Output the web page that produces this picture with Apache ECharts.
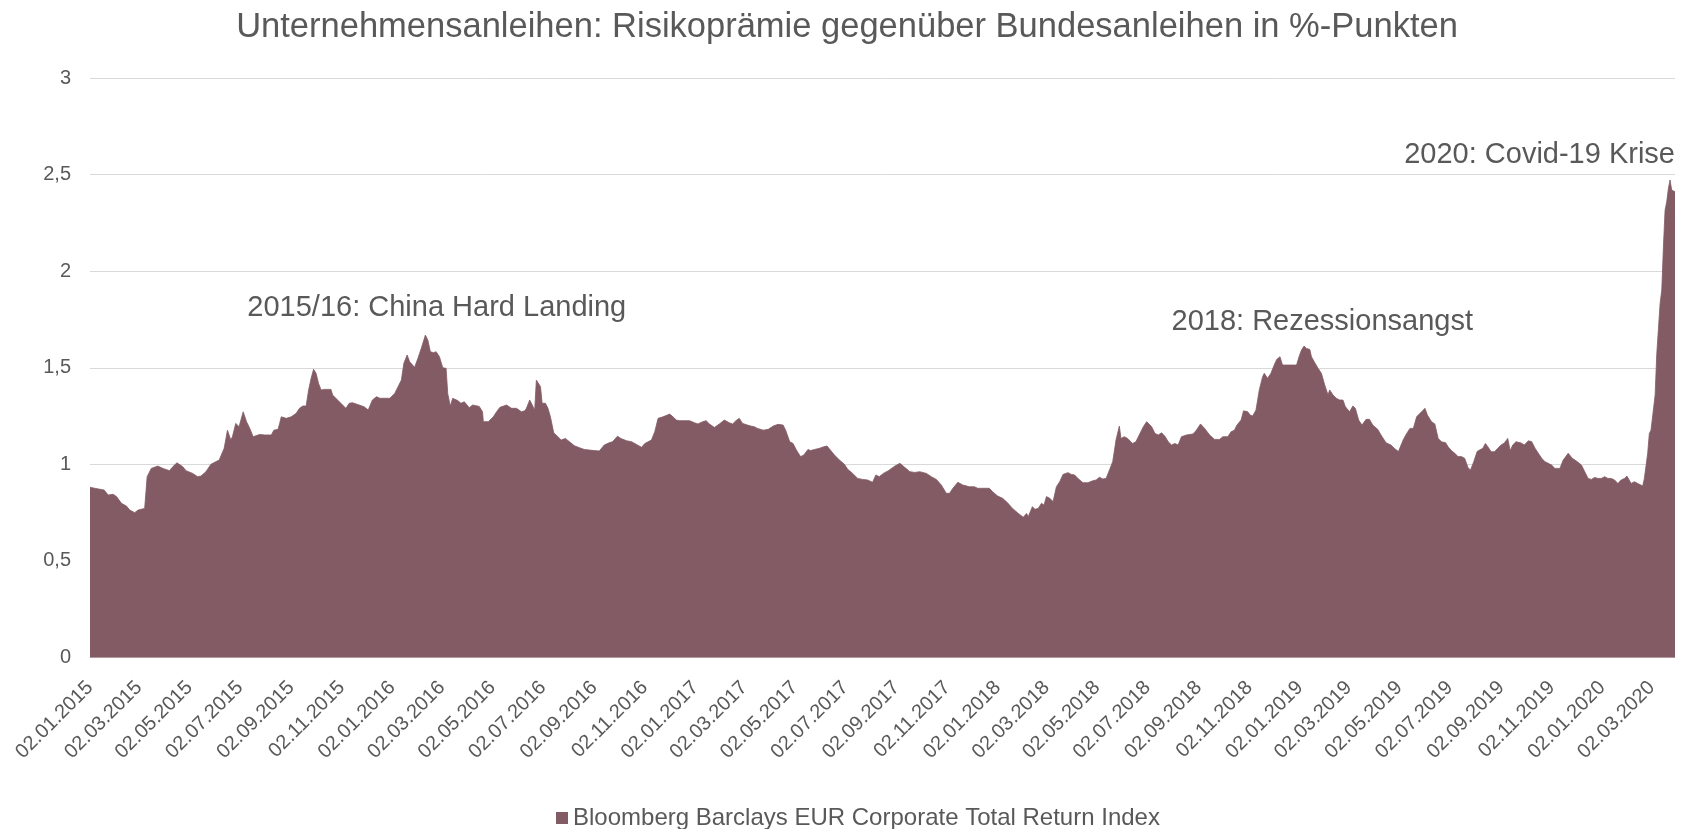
<!DOCTYPE html>
<html>
<head>
<meta charset="utf-8">
<script src="https://cdn.jsdelivr.net/npm/echarts@6/dist/echarts.min.js"></script>
<style>
html,body{margin:0;padding:0;background:#fff;}
#chart{width:1694px;height:829px;}
</style>
</head>
<body>
<div id="chart"></div>
<script>
const chartTitle = 'Unternehmensanleihen: Risikoprämie gegenüber Bundesanleihen in %-Punkten';
const seriesName = 'Bloomberg Barclays EUR Corporate Total Return Index';

const tickLabels = [
  '2015-01-02','2015-03-02','2015-05-02','2015-07-02','2015-09-02','2015-11-02',
  '2016-01-02','2016-03-02','2016-05-02','2016-07-02','2016-09-02','2016-11-02',
  '2017-01-02','2017-03-02','2017-05-02','2017-07-02','2017-09-02','2017-11-02',
  '2018-01-02','2018-03-02','2018-05-02','2018-07-02','2018-09-02','2018-11-02',
  '2019-01-02','2019-03-02','2019-05-02','2019-07-02','2019-09-02','2019-11-02',
  '2020-01-02','2020-03-02'
];

const dates = [
  // 2015
  '2015-01-02','2015-01-09','2015-01-19','2015-01-24','2015-01-30','2015-02-03','2015-02-09','2015-02-15','2015-02-19','2015-02-25',
  '2015-03-01','2015-03-09','2015-03-12','2015-03-17','2015-03-25','2015-03-31','2015-04-08','2015-04-12','2015-04-17','2015-04-24',
  '2015-04-28','2015-05-06','2015-05-12','2015-05-16','2015-05-22','2015-05-28','2015-06-03','2015-06-07','2015-06-13','2015-06-17',
  '2015-06-21','2015-06-23','2015-06-27','2015-07-01','2015-07-06','2015-07-10','2015-07-14','2015-07-18','2015-07-26','2015-08-01',
  '2015-08-09','2015-08-12','2015-08-17','2015-08-19','2015-08-21','2015-08-23','2015-08-27','2015-09-02','2015-09-08','2015-09-12',
  '2015-09-16','2015-09-20','2015-09-23','2015-09-26','2015-09-29','2015-10-02','2015-10-05','2015-10-08','2015-10-12','2015-10-20',
  '2015-10-22','2015-10-28','2015-11-03','2015-11-07','2015-11-11','2015-11-15','2015-11-23','2015-11-29','2015-12-04','2015-12-09',
  '2015-12-14','2015-12-18','2015-12-30',
  // 2016
  '2016-01-05','2016-01-09','2016-01-13','2016-01-16','2016-01-20','2016-01-23','2016-01-25','2016-01-29','2016-02-02','2016-02-06',
  '2016-02-11','2016-02-14','2016-02-17','2016-02-21','2016-02-24','2016-02-28','2016-03-03','2016-03-07','2016-03-09','2016-03-12',
  '2016-03-15','2016-03-21','2016-03-25','2016-03-29','2016-04-04','2016-04-08','2016-04-16','2016-04-20','2016-04-21','2016-04-27',
  '2016-05-03','2016-05-07','2016-05-11','2016-05-19','2016-05-25','2016-05-31','2016-06-06','2016-06-10','2016-06-12','2016-06-16',
  '2016-06-19','2016-06-22','2016-06-24','2016-06-26','2016-06-29','2016-07-01','2016-07-05','2016-07-08','2016-07-11','2016-07-15',
  '2016-07-20','2016-07-24','2016-07-29','2016-08-03','2016-08-09','2016-08-15','2016-08-21','2016-08-27','2016-09-02','2016-09-08',
  '2016-09-14','2016-09-20','2016-09-24','2016-09-30','2016-10-04','2016-10-11','2016-10-17','2016-10-23','2016-10-29','2016-11-02',
  '2016-11-06','2016-11-10','2016-11-14','2016-11-18','2016-11-24','2016-12-02','2016-12-06','2016-12-10','2016-12-14','2016-12-26',
  // 2017
  '2017-01-01','2017-01-05','2017-01-11','2017-01-15','2017-01-19','2017-01-25','2017-01-31','2017-02-06','2017-02-12','2017-02-16',
  '2017-02-20','2017-02-24','2017-02-28','2017-03-06','2017-03-10','2017-03-14','2017-03-18','2017-03-25','2017-03-31','2017-04-06',
  '2017-04-12','2017-04-18','2017-04-21','2017-04-26','2017-04-30','2017-05-04','2017-05-09','2017-05-13','2017-05-18','2017-05-21',
  '2017-05-26','2017-06-01','2017-06-06','2017-06-10','2017-06-14','2017-06-19','2017-06-25','2017-07-01','2017-07-05','2017-07-11',
  '2017-07-17','2017-07-23','2017-07-29','2017-08-04','2017-08-08','2017-08-12','2017-08-17','2017-08-23','2017-08-25','2017-08-31',
  '2017-09-06','2017-09-08','2017-09-12','2017-09-18','2017-09-24','2017-09-30','2017-10-08','2017-10-14','2017-10-20','2017-10-26',
  '2017-11-01','2017-11-05','2017-11-09','2017-11-15','2017-11-21','2017-11-29','2017-12-05','2017-12-09','2017-12-17','2017-12-23',
  '2017-12-27',
  // 2018
  '2018-01-02','2018-01-08','2018-01-14','2018-01-20','2018-01-27','2018-02-02','2018-02-06','2018-02-08','2018-02-13','2018-02-16',
  '2018-02-20','2018-02-24','2018-02-27','2018-03-02','2018-03-06','2018-03-10','2018-03-14','2018-03-18','2018-03-22','2018-03-28',
  '2018-04-01','2018-04-05','2018-04-09','2018-04-15','2018-04-21','2018-04-27','2018-05-01','2018-05-05','2018-05-09','2018-05-13',
  '2018-05-17','2018-05-21','2018-05-25','2018-05-29','2018-05-31','2018-06-04','2018-06-08','2018-06-10','2018-06-14','2018-06-18',
  '2018-06-22','2018-06-27','2018-07-01','2018-07-03','2018-07-07','2018-07-11','2018-07-15','2018-07-19','2018-07-23','2018-07-27',
  '2018-07-31','2018-08-04','2018-08-08','2018-08-12','2018-08-18','2018-08-26','2018-08-30','2018-09-04','2018-09-09','2018-09-15',
  '2018-09-21','2018-09-27','2018-10-01','2018-10-07','2018-10-11','2018-10-15','2018-10-18','2018-10-23','2018-10-26','2018-10-31',
  '2018-11-03','2018-11-06','2018-11-10','2018-11-14','2018-11-18','2018-11-20','2018-11-24','2018-11-28','2018-12-02','2018-12-05',
  '2018-12-09','2018-12-12','2018-12-19','2018-12-29',
  // 2019
  '2019-01-01','2019-01-04','2019-01-07','2019-01-10','2019-01-14','2019-01-16','2019-01-20','2019-01-24','2019-01-28','2019-02-01',
  '2019-02-05','2019-02-07','2019-02-11','2019-02-15','2019-02-19','2019-02-23','2019-02-26','2019-03-03','2019-03-07','2019-03-10',
  '2019-03-14','2019-03-18','2019-03-23','2019-03-27','2019-03-31','2019-04-06','2019-04-10','2019-04-16','2019-04-22','2019-04-26',
  '2019-05-01','2019-05-03','2019-05-07','2019-05-11','2019-05-15','2019-05-19','2019-05-23','2019-05-27','2019-05-30','2019-06-02',
  '2019-06-05','2019-06-10','2019-06-14','2019-06-18','2019-06-22','2019-06-27','2019-06-30','2019-07-04','2019-07-08','2019-07-12',
  '2019-07-16','2019-07-20','2019-07-24','2019-07-27','2019-07-31','2019-08-04','2019-08-07','2019-08-11','2019-08-14','2019-08-17',
  '2019-08-21','2019-08-25','2019-08-29','2019-09-02','2019-09-06','2019-09-10','2019-09-13','2019-09-16','2019-09-20','2019-09-26',
  '2019-09-30','2019-10-05','2019-10-09','2019-10-13','2019-10-17','2019-10-21','2019-10-25','2019-10-29','2019-11-02','2019-11-06',
  '2019-11-12','2019-11-16','2019-11-22','2019-11-27','2019-12-03','2019-12-08','2019-12-12','2019-12-16','2019-12-20','2019-12-24',
  '2019-12-28',
  // 2020
  '2020-01-01','2020-01-05','2020-01-09','2020-01-13','2020-01-17','2020-01-21','2020-01-25','2020-01-29','2020-02-01','2020-02-06',
  '2020-02-10','2020-02-14','2020-02-20','2020-02-22','2020-02-26','2020-02-28','2020-03-01','2020-03-03','2020-03-06','2020-03-08',
  '2020-03-10','2020-03-12','2020-03-14','2020-03-16','2020-03-18','2020-03-20','2020-03-22','2020-03-24','2020-03-26','2020-03-28',
  '2020-03-30'
];

const spread = [
  // 2015
  0.881,0.875,0.867,0.841,0.845,0.833,0.798,0.784,0.763,0.750,
  0.763,0.772,0.936,0.979,0.991,0.979,0.967,0.988,1.008,0.988,
  0.967,0.953,0.936,0.939,0.962,1.000,1.014,1.022,1.083,1.177,
  1.126,1.143,1.212,1.195,1.272,1.221,1.186,1.143,1.155,1.152,
  1.152,1.177,1.181,1.212,1.246,1.250,1.238,1.246,1.264,1.290,
  1.302,1.302,1.385,1.445,1.492,1.471,1.419,1.385,1.388,1.388,
  1.359,1.333,1.307,1.290,1.316,1.319,1.307,1.298,1.281,1.333,
  1.350,1.342,1.342,
  // 2016
  1.367,1.402,1.436,1.523,1.566,1.531,1.540,1.502,1.549,1.600,
  1.669,1.643,1.583,1.578,1.583,1.557,1.500,1.497,1.367,1.302,
  1.342,1.330,1.316,1.324,1.293,1.307,1.300,1.272,1.221,1.221,
  1.246,1.272,1.295,1.307,1.290,1.290,1.272,1.277,1.290,1.333,
  1.307,1.281,1.436,1.436,1.402,1.316,1.316,1.290,1.246,1.163,
  1.143,1.126,1.134,1.117,1.096,1.086,1.077,1.074,1.071,1.069,
  1.100,1.112,1.117,1.146,1.134,1.122,1.117,1.103,1.088,1.108,
  1.117,1.126,1.169,1.238,1.246,1.260,1.246,1.229,1.226,1.226,
  // 2017
  1.215,1.209,1.221,1.226,1.209,1.191,1.209,1.229,1.215,1.209,
  1.226,1.238,1.212,1.203,1.198,1.195,1.186,1.177,1.181,1.198,
  1.207,1.203,1.177,1.117,1.108,1.074,1.040,1.048,1.077,1.071,
  1.077,1.083,1.091,1.095,1.074,1.048,1.022,1.000,0.974,0.953,
  0.927,0.922,0.919,0.907,0.945,0.936,0.953,0.967,0.970,0.991,
  1.005,1.002,0.984,0.962,0.958,0.962,0.953,0.936,0.922,0.893,
  0.850,0.850,0.876,0.907,0.893,0.884,0.884,0.876,0.876,0.876,
  0.858,
  // 2018
  0.836,0.824,0.801,0.772,0.746,0.726,0.746,0.729,0.781,0.767,
  0.772,0.798,0.789,0.833,0.824,0.807,0.884,0.910,0.948,0.957,
  0.948,0.945,0.927,0.905,0.905,0.915,0.919,0.933,0.924,0.927,
  0.970,1.014,1.126,1.198,1.134,1.143,1.134,1.143,1.108,1.117,
  1.152,1.195,1.221,1.226,1.195,1.160,1.152,1.163,1.146,1.117,
  1.100,1.108,1.100,1.143,1.152,1.157,1.177,1.209,1.186,1.152,
  1.129,1.129,1.143,1.143,1.169,1.177,1.203,1.229,1.277,1.272,
  1.255,1.250,1.281,1.385,1.454,1.471,1.445,1.471,1.514,1.543,
  1.557,1.514,1.514,1.514,
  // 2019
  1.557,1.592,1.612,1.600,1.595,1.557,1.526,1.497,1.471,1.411,
  1.359,1.385,1.359,1.342,1.333,1.333,1.298,1.272,1.302,1.290,
  1.229,1.203,1.233,1.233,1.203,1.181,1.152,1.112,1.100,1.083,
  1.066,1.074,1.129,1.160,1.186,1.186,1.246,1.264,1.276,1.290,
  1.255,1.221,1.209,1.134,1.117,1.112,1.091,1.071,1.057,1.040,
  1.040,1.031,0.984,0.970,1.014,1.066,1.074,1.083,1.108,1.091,
  1.065,1.065,1.083,1.100,1.111,1.134,1.070,1.100,1.117,1.111,
  1.100,1.122,1.117,1.083,1.057,1.031,1.014,1.005,0.996,0.979,
  0.979,1.022,1.057,1.031,1.014,0.996,0.962,0.927,0.922,0.932,
  0.927,
  // 2020
  0.927,0.936,0.927,0.927,0.919,0.901,0.919,0.927,0.939,0.901,
  0.910,0.901,0.888,0.927,1.057,1.160,1.177,1.168,1.359,1.574,
  1.574,1.833,1.902,2.126,2.316,2.359,2.428,2.472,2.420,2.423,
  2.411
];

const annotations = [
  { text: '2015/16: China Hard Landing', date: '2015-07-11', value: 1.81, side: 'right' },
  { text: '2018: Rezessionsangst', date: '2018-07-31', value: 1.735, side: 'right' },
  { text: '2020: Covid-19 Krise', date: '2020-03-30', value: 2.60, side: 'left' }
];

const FONT = '"Liberation Sans", Arial, sans-serif';
const TEXT = '#595959';
const AREA = '#825b65';

function parseLocal(s) {
  const p = s.split('-').map(Number);
  return new Date(p[0], p[1] - 1, p[2]).getTime();
}
function pad(n) { return (n < 10 ? '0' : '') + n; }
function fmtDate(v) {
  const d = new Date(v);
  return pad(d.getDate()) + '.' + pad(d.getMonth() + 1) + '.' + d.getFullYear();
}

const chart = echarts.init(document.getElementById('chart'), null, { renderer: 'canvas' });

chart.setOption({
  animation: false,
  backgroundColor: '#ffffff',
  textStyle: { fontFamily: FONT },
  title: {
    text: chartTitle,
    left: 'center',
    top: 5,
    textStyle: { fontFamily: FONT, fontSize: 34.5, fontWeight: 'normal', color: TEXT }
  },
  legend: {
    data: [{ name: seriesName, icon: 'rect' }],
    left: 551,
    top: 801,
    itemWidth: 12,
    itemHeight: 12,
    itemGap: 10,
    textStyle: { fontFamily: FONT, fontSize: 24, color: TEXT }
  },
  grid: { left: 90, right: 19, top: 78, bottom: 171.5, containLabel: false },
  xAxis: {
    type: 'value',
    min: parseLocal(dates[0]),
    max: parseLocal(dates[dates.length - 1]),
    axisLine: { show: true, onZero: false, lineStyle: { color: '#d9d9d9', width: 1 } },
    axisTick: { show: false },
    splitLine: { show: false },
    axisLabel: {
      customValues: tickLabels.map(parseLocal),
      formatter: function (v) { return fmtDate(v); },
      rotate: 45,
      margin: 27,
      fontFamily: FONT,
      fontSize: 20,
      color: TEXT,
      hideOverlap: false
    }
  },
  yAxis: {
    type: 'value',
    min: 0,
    max: 3,
    interval: 0.5,
    axisLine: { show: false },
    axisTick: { show: false },
    splitLine: { show: true, lineStyle: { color: '#d9d9d9', width: 1 } },
    axisLabel: {
      formatter: function (v) { return String(v).replace('.', ','); },
      margin: 19,
      fontFamily: FONT,
      fontSize: 20,
      color: TEXT
    }
  },
  series: [{
    name: seriesName,
    type: 'line',
    data: dates.map(function (d, i) { return [parseLocal(d), spread[i]]; }),
    showSymbol: false,
    symbol: 'none',
    itemStyle: { color: AREA },
    lineStyle: { color: AREA, width: 0.8 },
    areaStyle: { color: AREA, opacity: 1 },
    markPoint: {
      symbol: 'circle',
      symbolSize: 0,
      silent: true,
      data: annotations.map(function (a) {
        return {
          coord: [parseLocal(a.date), a.value],
          label: {
            show: true,
            formatter: a.text,
            position: a.side,
            distance: 0,
            fontFamily: FONT,
            fontSize: 29,
            color: TEXT
          }
        };
      })
    }
  }]
});
</script>
</body>
</html>
